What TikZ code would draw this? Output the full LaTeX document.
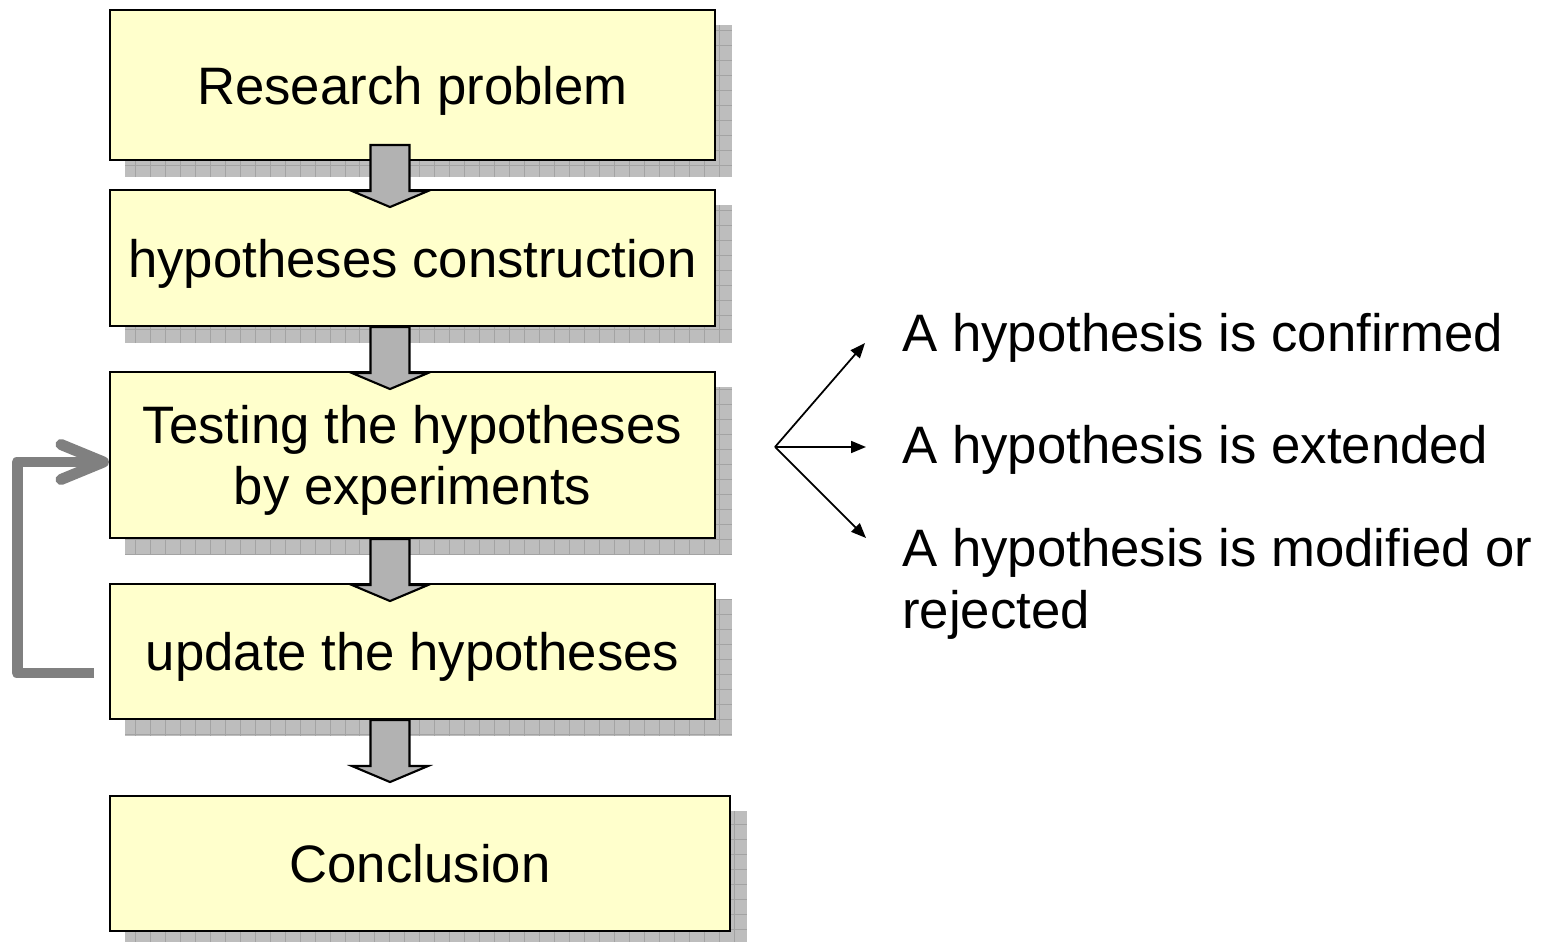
\documentclass[tikz,border=0pt]{standalone}
\usepackage{fontspec}
\setmainfont{Liberation Sans}
\usetikzlibrary{arrows.meta,backgrounds}
\definecolor{boxyellow}{HTML}{FFFFCC}
\definecolor{arrowgray}{HTML}{B2B2B2}
\definecolor{loopgray}{HTML}{808080}
\definecolor{shadowgray}{HTML}{BDBDBD}
\definecolor{gridgray}{HTML}{A3A3A3}
\tikzset{
	stage/.style={draw=black, line width=1.2pt, fill=boxyellow, minimum width=12.1cm, inner sep=0pt, text depth=0pt, align=center, font=\fontsize{30}{35}\selectfont},
	outtext/.style={inner sep=0pt, anchor=base west, align=left, font=\fontsize{30}{35}\selectfont},
	loopline/.style={draw=loopgray, line width=0.22cm, line join=round, -{Straight Barb[length=0.85cm, width=0.7cm, round]}},
	branch/.style={line width=1pt, -{Triangle[length=0.3cm, width=0.24cm]}},
	blockdown/.pic={\draw[fill=arrowgray, line width=1.2pt] (-19.5,0) -- (19.5,0) -- (19.5,46) -- (38,46) -- (0,62) -- (-38,46) -- (-19.5,46) -- cycle;}
}
\begin{document}
\begin{tikzpicture}[x=0.02cm, y=-0.02cm]
	\useasboundingbox (0,0) rectangle (1551,942);
	\node[stage, minimum height=3cm] (rp) at (412.5,85) {Research problem};
	\node[stage, minimum height=2.72cm] (hc) at (412.5,258) {hypotheses construction};
	\node[stage, minimum height=3.32cm] (te) at (412.5,455) {Testing the hypotheses\\by experiments};
	\node[stage, minimum height=2.7cm] (up) at (412.5,651.5) {update the hypotheses};
	\node[stage, minimum height=2.7cm, minimum width=12.4cm] (co) at (420,863.5) {Conclusion};
	\begin{scope}[on background layer]
	\foreach \n in {rp,hc,te,up,co}{
		\begin{scope}
		\clip ([shift={(16,16)}]\n.north west) rectangle ([shift={(16,16)}]\n.south east);
		\fill[shadowgray] ([shift={(16,16)}]\n.north west) rectangle ([shift={(16,16)}]\n.south east);
		\draw[gridgray, line width=0.5pt, step=0.3cm] ([shift={(16,16)}]\n.north west) grid ([shift={(16,16)}]\n.south east);
		\end{scope}
	}
	\end{scope}
	\pic at ([xshift=-0.45cm, yshift=0.32cm]rp.south) {blockdown};
	\pic at ([xshift=-0.45cm]hc.south) {blockdown};
	\pic at ([xshift=-0.45cm]te.south) {blockdown};
	\pic at ([xshift=-0.45cm]up.south) {blockdown};
	\draw[loopline] ([xshift=-0.3cm, yshift=-0.43cm]up.west) -- ++(-77,0) |- ([yshift=-0.14cm]te.west);
	\node[outtext] (h1) at (902,352) {A hypothesis is confirmed};
	\node[outtext] (h2) at (902,463) {A hypothesis is extended};
	\node[outtext] (h3) at (902,628) {A hypothesis is modified or\\rejected};
	\coordinate (fork) at (775,447);
	\coordinate (t1) at (865,343);
	\coordinate (t2) at (866,447);
	\coordinate (t3) at (866,538);
	\draw[branch] (fork) -- (t1);
	\draw[branch] (fork) -- (t2);
	\draw[branch] (fork) -- (t3);
\end{tikzpicture}
\end{document}
